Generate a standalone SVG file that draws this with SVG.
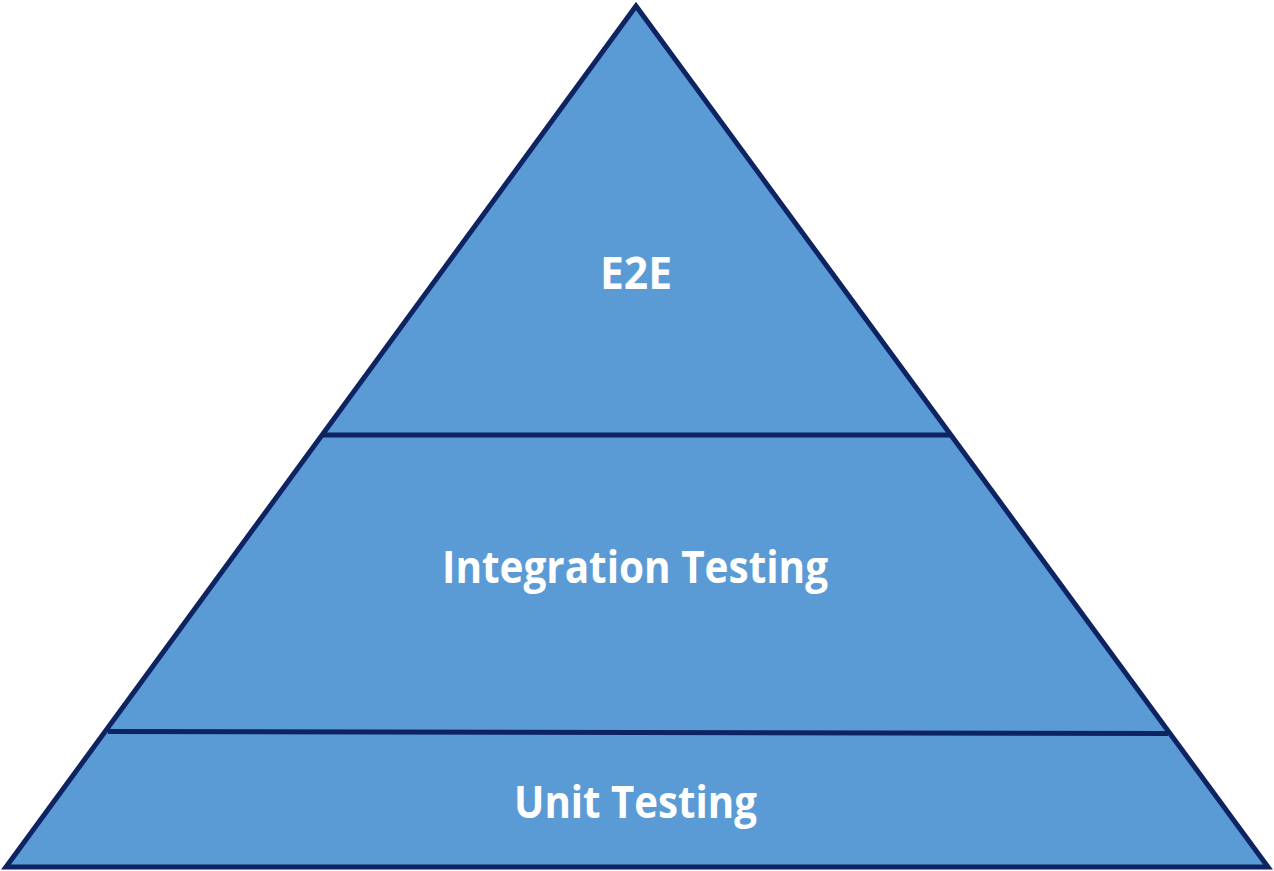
<svg xmlns="http://www.w3.org/2000/svg" width="1274" height="871" viewBox="0 0 1274 871">
<style>
.lvl{fill:#5B9BD5;stroke:#0E2361;stroke-width:5;stroke-linejoin:miter}
.lbl{font-family:"Open Sans","Liberation Sans",sans-serif;font-weight:bold;font-size:44px;fill:#FFFFFF;text-anchor:middle}
</style>
<rect width="1274" height="871" fill="#FFFFFF"/>
<g id="pyramid">
<polygon class="lvl" points="636,6 1268,867 6,867"/>
</g>
<g id="connectors">
<line x1="323" y1="435" x2="950" y2="435" stroke="#0E2361" stroke-width="5"/>
<line x1="108" y1="731.5" x2="1168" y2="733.5" stroke="#0E2361" stroke-width="5"/>
</g>
<g id="e2e"><text class="lbl" x="636" y="289" textLength="72" lengthAdjust="spacingAndGlyphs">E2E</text></g>
<g id="integration"><text class="lbl" x="635" y="583" textLength="386" lengthAdjust="spacingAndGlyphs">Integration Testing</text></g>
<g id="unit"><text class="lbl" x="635.5" y="818" textLength="243" lengthAdjust="spacingAndGlyphs">Unit Testing</text></g>
</svg>
